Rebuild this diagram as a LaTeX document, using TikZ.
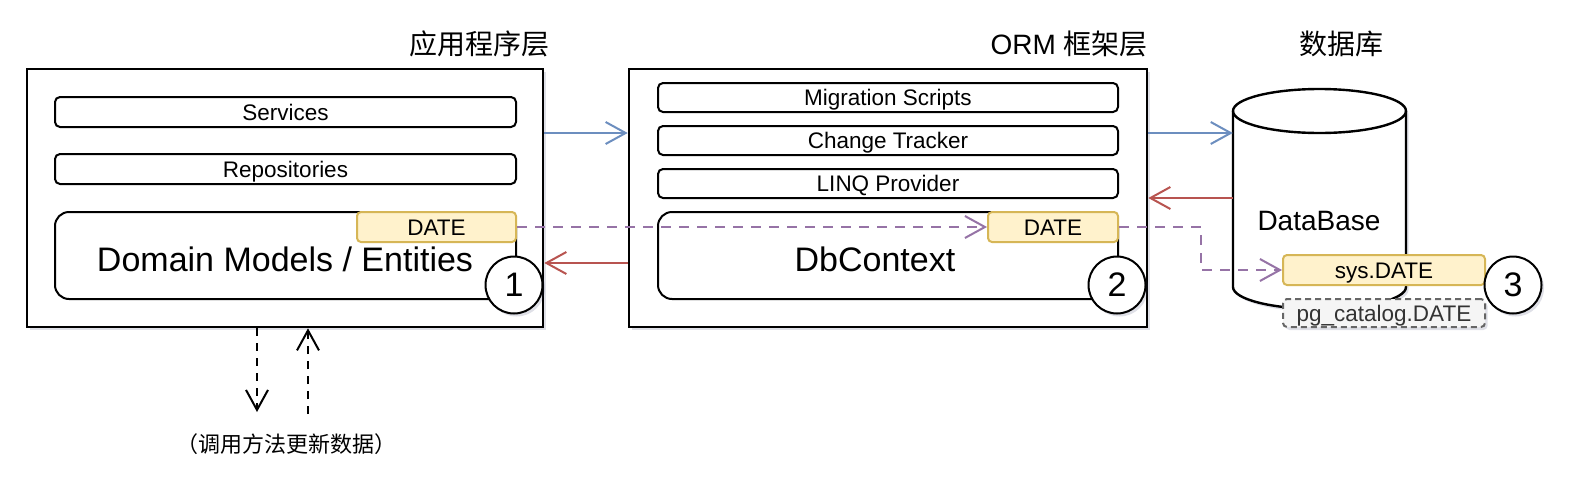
\documentclass[tikz,border=0pt]{standalone}
\usepackage{fontspec}
\setmainfont{Liberation Sans}
\newfontfamily\cjk{Noto Sans CJK SC}
\usetikzlibrary{arrows.meta,shadows}
\definecolor{dfill}{HTML}{FFF2CC}
\definecolor{ddraw}{HTML}{D6B656}
\definecolor{cblue}{HTML}{6C8EBF}
\definecolor{cred}{HTML}{B85450}
\definecolor{cpurple}{HTML}{9673A6}
\definecolor{pgfill}{HTML}{F5F5F5}
\definecolor{pgdraw}{HTML}{666666}
\definecolor{pgtext}{HTML}{333333}
\definecolor{shadowc}{HTML}{3A3F6A}
\begin{document}
\begin{tikzpicture}[x=1pt,y=-1pt,
  shd/.style={drop shadow={shadow xshift=2.5pt, shadow yshift=-3pt, opacity=0.16, fill=shadowc}},
  smallf/.style={font=\fontsize{22.5}{27}\selectfont},
  outerbox/.style={draw, line width=2.6pt, fill=white, shd, inner sep=0pt},
  layerbox/.style={draw, line width=2pt, fill=white, rounded corners=5pt, inner sep=0pt, smallf, text height=16pt, text depth=0pt},
  mainbox/.style={draw, line width=2pt, fill=white, rounded corners=14pt, inner sep=0pt},
  bigtext/.style={font=\fontsize{34}{40}\selectfont, inner sep=0pt, text height=24.3pt, text depth=0pt},
  datebox/.style={draw=ddraw, fill=dfill, line width=2pt, rounded corners=4pt, inner sep=0pt, smallf, text height=16pt, text depth=0pt},
  pgbox/.style={draw=pgdraw, fill=pgfill, text=pgtext, line width=2pt, dash pattern=on 6pt off 4pt, rounded corners=4pt, inner sep=0pt, smallf, text height=16pt, text depth=0pt},
  numc/.style={circle, draw, line width=2pt, fill=white, shd, minimum size=57pt, inner sep=0pt, font=\fontsize{34}{40}\selectfont},
  titlef/.style={font=\fontsize{28}{34}\selectfont, inner sep=0pt},
  tip/.style={-{Straight Barb[length=20pt,width=22pt]}},
  flowblue/.style={tip, line width=2pt, draw=cblue},
  flowred/.style={tip, line width=2pt, draw=cred},
  flowpurple/.style={tip, line width=2pt, draw=cpurple, dash pattern=on 10pt off 8pt},
  flowblack/.style={tip, line width=2pt, draw=black, dash pattern=on 8pt off 7pt}
]
\useasboundingbox (0,0) rectangle (1574,477);

% titles
\node[titlef, anchor=base east] (t1) at (550,54) {\cjk 应用程序层};
\node[titlef, anchor=base east] (t2) at (1148,54) {ORM {\cjk 框架层}};
\node[titlef, anchor=base] (t3) at (1341,54) {\cjk 数据库};

% application layer
\node[outerbox, minimum width=516pt, minimum height=258pt] (app) at (285,198) {};
\node[layerbox, minimum width=461pt, minimum height=30pt] (serv) at (285.5,112) {Services};
\node[layerbox, minimum width=461pt, minimum height=30pt] (repo) at (285.5,169) {Repositories};
\node[mainbox, minimum width=461pt, minimum height=87pt] (dom) at (285.5,255.5) {};
\node[bigtext] (domt) at (285,259) {Domain Models / Entities};
\node[datebox, minimum width=159pt, minimum height=30pt] (appdate) at (436.5,227) {DATE};
\node[numc] (n1) at (514,285) {1};

% ORM layer
\node[outerbox, minimum width=518pt, minimum height=258pt] (orm) at (888,198) {};
\node[layerbox, minimum width=460pt, minimum height=29pt] (mig) at (888,97.5) {Migration Scripts};
\node[layerbox, minimum width=460pt, minimum height=29pt] (chg) at (888,140.5) {Change Tracker};
\node[layerbox, minimum width=460pt, minimum height=29pt] (linq) at (888,183.5) {LINQ Provider};
\node[mainbox, minimum width=460pt, minimum height=87pt] (dbc) at (888,255.5) {};
\node[bigtext] (dbct) at (875,259) {DbContext};
\node[datebox, minimum width=130pt, minimum height=30pt] (ormdate) at (1053,227) {DATE};
\node[numc] (n2) at (1117,285) {2};

% database cylinder
\node[minimum width=173pt, minimum height=220pt, inner sep=0pt] (db) at (1319.5,199) {};
\path[draw, fill=white, line width=2.4pt, shd]
  (1233,111) -- (1233,287) arc[start angle=180, end angle=0, x radius=86.5, y radius=22]
  -- (1406,111) arc[start angle=0, end angle=-180, x radius=86.5, y radius=22] -- cycle;
\draw[line width=2.4pt] (1233,111) arc[start angle=180, end angle=0, x radius=86.5, y radius=22];
\node[font=\fontsize{28}{34}\selectfont, inner sep=0pt, text height=20pt, text depth=0pt] (dbt) at (1319,220) {DataBase};
\node[pgbox, shd, minimum width=202pt, minimum height=28pt] (pg) at (1384,313) {pg\_catalog.DATE};
\node[datebox, minimum width=202pt, minimum height=30pt] (sysdate) at (1384,270) {sys.DATE};
\node[numc] (n3) at (1513,285) {3};

% connectors
\draw[flowblue] (app.east |- 0,133) -- (orm.west |- 0,133);
\draw[flowblue] (orm.east |- 0,133) -- (db.west |- 0,133);
\draw[flowred] (db.west |- 0,198) -- (orm.east |- 0,198);
\draw[flowred] (orm.west |- 0,263) -- (app.east |- 0,263);
\draw[flowpurple] (appdate.east) -- (ormdate.west);
\draw[flowpurple] (ormdate.east) -- ++(82,0) |- (sysdate.west);

% bottom calls
\coordinate (downend) at (257,412);
\coordinate (upstart) at (308,414);
\draw[flowblack] (app.south -| downend) -- (downend);
\draw[flowblack] (upstart) -- (app.south -| upstart);
\node[font=\fontsize{22}{26}\selectfont, inner sep=0pt, anchor=base] (note) at (286,452) {\cjk （调用方法更新数据）};
\end{tikzpicture}
\end{document}
